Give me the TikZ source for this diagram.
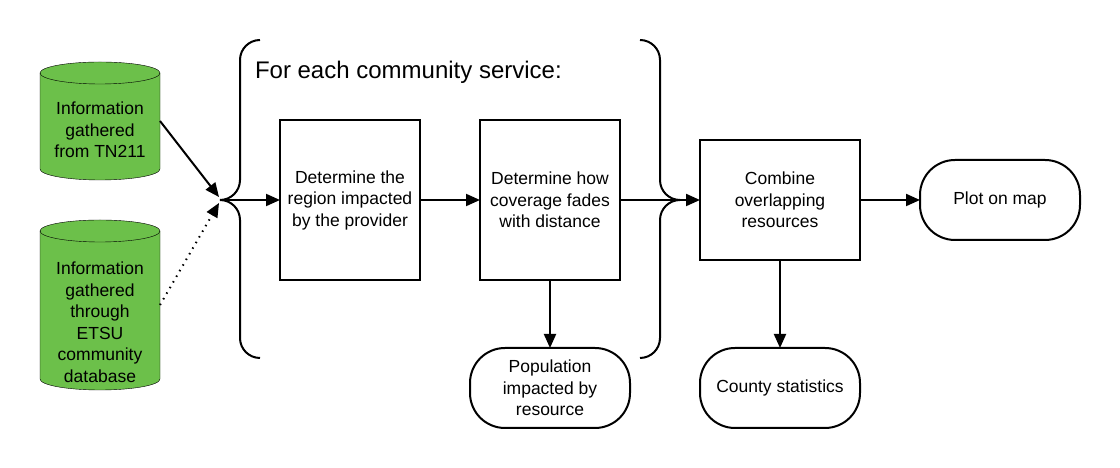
\documentclass[tikz,border=0pt]{standalone}
\usepackage{fontspec}
\setmainfont{Liberation Sans}
\usetikzlibrary{arrows.meta,positioning,backgrounds,calc}
\definecolor{dbGreen}{RGB}{108,192,74}

\begin{document}
\begin{tikzpicture}[x=1pt,y=1pt,line width=2pt,
    every node/.style={font=\fontsize{17.5}{21.5}\selectfont,align=center,inner sep=0pt,outer sep=0pt},
    stepbox/.style={draw,minimum width=140,minimum height=160},
    endbox/.style={draw,rounded corners=35pt,minimum width=160,minimum height=80},
    dbase/.style={minimum width=120},
    arr/.style={-{Triangle[length=14pt,width=12pt]}}]
  \useasboundingbox (0,0) rectangle (1120,468);

  % sources
  \node[dbase,minimum height=118] (tn) at (100,347) {};
  \node (tntext) at (100,338) {Information\\gathered\\from TN211};
  \node[dbase,minimum height=170] (etsu) at (100,163) {};
  \node (etsutext) at (100,146) {Information\\gathered\\through\\ETSU\\community\\database};
  \begin{scope}[on background layer]
    \foreach \n in {tn,etsu} {
      \draw[fill=dbGreen] ($(\n.north west)+(0,-11)$) -- ($(\n.south west)+(0,11)$)
        arc[start angle=180,end angle=360,x radius=60,y radius=11]
        -- ($(\n.north east)+(0,-11)$)
        arc[start angle=0,end angle=180,x radius=60,y radius=11] -- cycle;
      \draw ($(\n.north west)+(0,-11)$) arc[start angle=180,end angle=360,x radius=60,y radius=11];
    }
  \end{scope}

  % braces
  \coordinate (lb) at (220,268);
  \coordinate (rb) at (680,268);
  \coordinate (in1) at (219,271);
  \coordinate (in2) at (219,265);
  \draw[rounded corners=20pt] (260,428) -- (240,428) -- (240,268) -- (lb);
  \draw[rounded corners=20pt] (260,110) -- (240,110) -- (240,268) -- (lb);
  \draw[rounded corners=20pt] (640,428) -- (660,428) -- (660,268) -- (rb);
  \draw[rounded corners=20pt] (640,110) -- (660,110) -- (660,268) -- (rb);
  \node[anchor=west,font=\fontsize{24}{28}\selectfont] (title) at (255,396) {For each community service:};

  % steps
  \node[stepbox] (region) at (350,268) {Determine the\\region impacted\\by the provider};
  \node[stepbox] (fade) at (550,268) {Determine how\\coverage fades\\with distance};
  \node[draw,minimum width=160,minimum height=120] (combine) at (780,268) {Combine\\overlapping\\resources};
  \node[endbox] (plot) at (1000,268) {Plot on map};
  \node[endbox] (pop) at (550,80) {Population\\impacted by\\resource};
  \node[endbox] (county) at (780,80) {County statistics};

  \draw[arr] (tn.east) -- (in1);
  \draw[arr,dash pattern=on 1.5pt off 5pt] (etsu.east) -- (in2);
  \draw[arr] (lb) -- (region);
  \draw[arr] (region) -- (fade);
  \draw[arr] (fade) -- (combine);
  \draw[arr] (combine) -- (plot);
  \draw[arr] (fade) -- (pop);
  \draw[arr] (combine) -- (county);
\end{tikzpicture}
\end{document}
